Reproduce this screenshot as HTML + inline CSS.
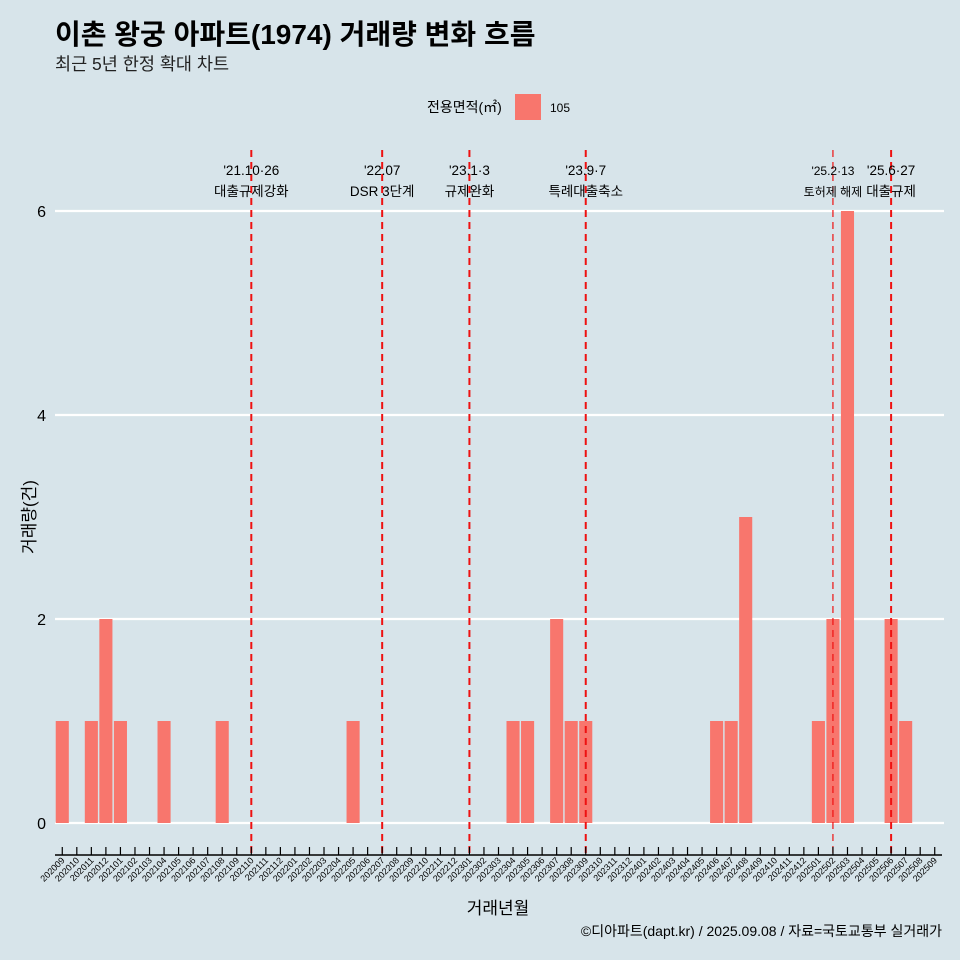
<!DOCTYPE html>
<html><head><meta charset="utf-8"><style>
html,body{margin:0;padding:0;overflow:hidden;background:#d7e4ea;font-family:"Liberation Sans","Noto Sans CJK KR",sans-serif}
svg{display:block}
svg text{font-family:"Liberation Sans","Noto Sans CJK KR",sans-serif}
</style></head><body>
<svg id="c" width="960" height="960" viewBox="0 0 960 960">
<rect width="960" height="960" fill="#d7e4ea"/>
<text x="55" y="44" font-size="28" font-weight="bold" fill="#000">이촌 왕궁 아파트(1974) 거래량 변화 흐름</text>
<text x="55" y="70" font-size="17.5" fill="#222">최근 5년 한정 확대 차트</text>
<g>
<text x="427" y="112" font-size="14">전용면적(㎡)</text>
<rect x="515" y="94" width="26" height="26" fill="#f8766d"/>
<text x="550" y="112" font-size="12">105</text>
</g>
<g id="grid"></g><g id="bars"></g><g id="events"></g><g id="xaxis"></g><g id="yaxis"></g>
<text x="498" y="914" font-size="17" text-anchor="middle">거래년월</text>
<text transform="translate(35,517) rotate(-90)" font-size="17" text-anchor="middle">거래량(건)</text>
<text x="942" y="936" font-size="14" text-anchor="end">©디아파트(dapt.kr) / 2025.09.08 / 자료=국토교통부 실거래가</text>
</svg>
<script>
const months=[];for(let y=2020;y<=2025;y++)for(let m=1;m<=12;m++){const k=y*100+m;if(k>=202009&&k<=202509)months.push(String(k));}
const dealMonths=["202009","202011","202012","202101","202104","202108","202205","202304","202305","202307","202308","202309","202406","202407","202408","202501","202502","202503","202506","202507"];
const dealCounts=[1,1,2,1,1,1,1,1,1,2,1,1,1,1,3,1,2,6,2,1];
const yTicks=[0,2,4,6];
const eventMonths=["202110","202207","202301","202309","202502","202506"];
const eventDates=["'21.10·26","'22.07","'23.1·3","'23.9·7","'25.2·13","'25.6·27"];
const eventLabels=["대출규제강화","DSR 3단계","규제완화","특례대출축소","토허제 해제","대출규제"];
const NS="http://www.w3.org/2000/svg";
const x0=55,x1=942,bw=(x1-x0)/months.length;
const xc=m=>x0+(months.indexOf(m)+0.5)*bw;
const y=v=>823-v*102;
function mk(t,a,p){const e=document.createElementNS(NS,t);for(const k in a)e.setAttribute(k,a[k]);document.getElementById(p).appendChild(e);return e;}
yTicks.forEach(v=>{
 const l=mk('line',{x1:x0,x2:x1+2,y1:y(v),y2:y(v),stroke:'#fff','stroke-width':2.2},'grid');
 
 
 const t=mk('text',{x:46,y:y(v)+6,'font-size':16,'text-anchor':'end'},'yaxis');t.textContent=v;
 
 
});
dealMonths.forEach((m,i)=>{
 const r=mk('rect',{x:xc(m)-bw*0.45,width:bw*0.9,y:y(dealCounts[i]),height:y(0)-y(dealCounts[i]),fill:'#f8766d'},'bars');
 
 
});
eventMonths.forEach((m,i)=>{
 const xx=xc(m);
 const l=mk('line',{x1:xx,x2:xx,y1:150,y2:854,stroke:'#ee1111','stroke-width':i==4?1.2:2,'stroke-dasharray':'7,5'},'events');
 
 
 const fs=i==4?12:13.5;
 const t1=mk('text',{x:xx,y:175,'font-size':fs,'text-anchor':'middle'},'events');t1.textContent=eventDates[i];
 
 
 const t2=mk('text',{x:xx,y:196,'font-size':fs,'text-anchor':'middle'},'events');t2.textContent=eventLabels[i];
 
 
});
const ax=mk('line',{x1:x0,x2:x1,y1:855,y2:855,stroke:'#000','stroke-width':1.5},'xaxis');


months.forEach(m=>{
 const xx=xc(m);
 mk('line',{x1:xx,x2:xx,y1:847,y2:855,stroke:'#000','stroke-width':1.2},'xaxis');
 const t=mk('text',{transform:`translate(${xx+3},861) rotate(-45)`,'font-size':9,'text-anchor':'end'},'xaxis');t.textContent=m;
 
 
});
</script>
</body></html>
